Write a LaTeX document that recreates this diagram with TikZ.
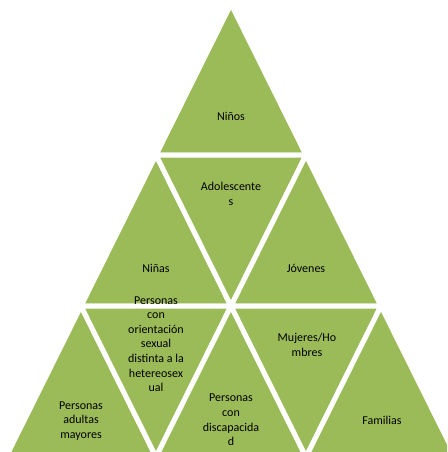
\documentclass[tikz,border=0pt]{standalone}
\usepackage{fontspec}
\setmainfont{Carlito}
\definecolor{segreen}{HTML}{9BBB59}
\begin{document}
\begin{tikzpicture}[x=1pt,y=-1pt,
  tri/.style={fill=segreen, draw=white, line width=5pt, line join=miter},
  lbl/.style={font=\fontsize{12}{14.6}\selectfont, align=center, inner sep=0pt, text=black}]
\useasboundingbox (0,0) rectangle (447,452);
\clip (0,0) rectangle (447,452);
% row 1
\draw[tri] (231,4) -- (306,155) -- (156,155) -- cycle;
% row 2
\draw[tri] (156,155) -- (231,306) -- (81,306) -- cycle;
\draw[tri] (156,155) -- (306,155) -- (231,306) -- cycle;
\draw[tri] (306,155) -- (381,306) -- (231,306) -- cycle;
% row 3
\draw[tri] (81,306) -- (156,457) -- (6,457) -- cycle;
\draw[tri] (81,306) -- (231,306) -- (156,457) -- cycle;
\draw[tri] (231,306) -- (306,457) -- (156,457) -- cycle;
\draw[tri] (231,306) -- (381,306) -- (306,457) -- cycle;
\draw[tri] (381,306) -- (456,457) -- (306,457) -- cycle;
% labels
\node[lbl] (ninos) at (231,116) {Niños};
\node[lbl] (adol) at (231,194) {Adolescente\\s};
\node[lbl] (ninas) at (156,268) {Niñas};
\node[lbl] (jov) at (306,268) {Jóvenes};
\node[lbl] (orient) at (156,344) {Personas\\con\\orientación\\sexual\\distinta a la\\hetereosex\\ual};
\node[lbl] (adultos) at (81,421) {Personas\\adultas\\mayores};
\node[lbl] (disc) at (231,420) {Personas\\con\\discapacida\\d};
\node[lbl] (mujer) at (307,345) {Mujeres/Ho\\mbres};
\node[lbl] (fam) at (382,420) {Familias};
\end{tikzpicture}
\end{document}
